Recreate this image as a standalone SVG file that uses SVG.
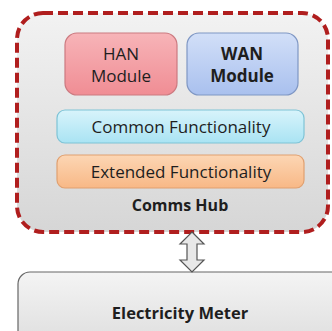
<svg xmlns="http://www.w3.org/2000/svg" width="332" height="331" viewBox="0 0 332 331">
<defs>
<linearGradient id="gHub" x1="0" y1="0" x2="0" y2="1"><stop offset="0" stop-color="#f2f2f2"/><stop offset="1" stop-color="#d6d6d6"/></linearGradient>
<linearGradient id="gHan" x1="0" y1="0" x2="0" y2="1"><stop offset="0" stop-color="#f7b4b8"/><stop offset="1" stop-color="#f08d94"/></linearGradient>
<linearGradient id="gWan" x1="0" y1="0" x2="0" y2="1"><stop offset="0" stop-color="#d2dff8"/><stop offset="1" stop-color="#a9c0ee"/></linearGradient>
<linearGradient id="gCom" x1="0" y1="0" x2="0" y2="1"><stop offset="0" stop-color="#d8f4fb"/><stop offset="1" stop-color="#a9e3f3"/></linearGradient>
<linearGradient id="gExt" x1="0" y1="0" x2="0" y2="1"><stop offset="0" stop-color="#fcd6b4"/><stop offset="1" stop-color="#f8b886"/></linearGradient>
<linearGradient id="gMet" x1="0" y1="0" x2="0" y2="1"><stop offset="0" stop-color="#f4f4f4"/><stop offset="1" stop-color="#dcdcdc"/></linearGradient>
</defs>
<style>
text{font-family:"Open Sans","Liberation Sans",sans-serif;fill:#1e1e1e;text-anchor:middle}
.m{font-size:17px;font-weight:500}
.b{font-weight:bold}
</style>
<rect width="332" height="331" fill="#ffffff"/>
<g id="meter">
<rect x="18" y="272" width="330" height="80" rx="12" fill="url(#gMet)" stroke="#666" stroke-width="1.2"/>
<text x="180" y="319" class="b" font-size="16.5">Electricity Meter</text>
</g>
<g id="hub">
<rect x="17" y="13" width="311" height="219" rx="26" fill="url(#gHub)" stroke="#b01e1e" stroke-width="4" stroke-dasharray="10,5"/>
<text x="180" y="211" class="b" font-size="16">Comms Hub</text>
</g>
<g id="han">
<rect x="65" y="33" width="112" height="62" rx="12" fill="url(#gHan)" stroke="#cc7a80" stroke-width="1.2"/>
<text x="121" y="60" class="m">HAN</text>
<text x="121" y="82" class="m">Module</text>
</g>
<g id="wan">
<rect x="187" y="33" width="111" height="62" rx="12" fill="url(#gWan)" stroke="#7f97c4" stroke-width="1.2"/>
<text x="242" y="60" class="m b">WAN</text>
<text x="242" y="82" class="m b">Module</text>
</g>
<g id="common">
<rect x="57" y="110" width="247" height="33" rx="8" fill="url(#gCom)" stroke="#7ec3d6" stroke-width="1.2"/>
<text x="181" y="133" class="m">Common Functionality</text>
</g>
<g id="extended">
<rect x="57" y="155" width="247" height="33" rx="8" fill="url(#gExt)" stroke="#e0a070" stroke-width="1.2"/>
<text x="181" y="178" class="m">Extended Functionality</text>
</g>
<g id="connectors">
<path d="M192 232 L204 244 L197 244 L197 260 L204 260 L192 272 L180 260 L187 260 L187 244 L180 244 Z" fill="#e8e8e8" stroke="#555" stroke-width="1.2"/>
</g>
</svg>
